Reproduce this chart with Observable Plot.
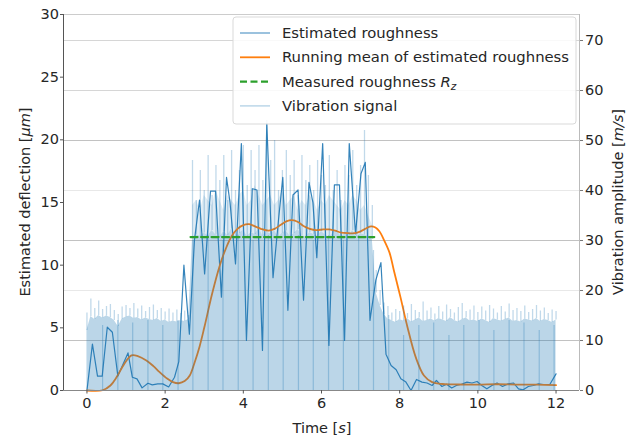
<!DOCTYPE html>
<html>
<head>
<meta charset="utf-8">
<script src="https://cdn.jsdelivr.net/npm/d3@7"></script>
<script src="https://cdn.jsdelivr.net/npm/@observablehq/plot@0.6"></script>
<style>
  html, body { margin: 0; padding: 0; background: #fff; }
  #chart { width: 638px; height: 439px; }
</style>
</head>
<body>
<div id="chart"></div>
<script>
// ---------- data ----------
const xTicks = [0, 2, 4, 6, 8, 10, 12];
const yTicksLeft = [0, 5, 10, 15, 20, 25, 30];
const yTicksRight = [0, 10, 20, 30, 40, 50, 60, 70];
const rightMax = 75.2; // right axis top (m/s) aligned with left 30 µm

// Estimated roughness (µm)
const estT = [0.00,0.14,0.27,0.39,0.52,0.65,0.79,1.05,1.16,1.28,1.41,1.56,1.67,1.81,1.94,2.09,2.24,2.35,2.48,2.62,
  2.75,2.88,3.01,3.16,3.29,3.44,3.57,3.66,3.80,3.95,4.08,4.23,4.35,4.49,4.60,4.76,4.90,5.01,5.14,5.27,5.40,
  5.54,5.68,5.78,5.88,6.03,6.19,6.33,6.46,6.59,6.71,6.87,7.01,7.12,7.24,7.39,7.52,7.65,7.78,7.91,8.03,8.16,
  8.29,8.43,8.57,8.70,8.83,8.94,9.08,9.20,9.33,9.45,9.58,9.72,9.85,9.98,10.10,10.23,10.36,10.49,10.63,10.77,
  10.91,11.04,11.16,11.29,11.42,11.55,11.67,11.84,12.00];
const estV = [0,3.7,1.15,1.15,5.05,4.65,1.15,3.0,1.06,0.93,0.21,0.58,0.45,0.53,0.53,0.28,1.06,2.3,10.0,4.5,
  12.0,15.2,9.3,15.9,15.9,7.45,17.0,15.0,10.1,19.7,4.0,16.1,16.0,3.2,21.3,9.0,13.6,17.0,6.4,15.6,16.0,
  7.2,16.6,15.0,10.6,19.7,3.6,16.4,16.4,4.0,19.7,12.5,17.3,18.2,5.6,8.8,10.2,2.9,2.0,1.65,0.93,0.67,
  0,0.88,0.67,0.6,0.4,0.8,0.32,0.5,0.2,0.4,0.5,0.67,0.6,0.72,0.4,0.13,0.4,0.6,0.32,0.53,
  0.6,0.13,0.05,0.32,0.4,0.53,0.48,0.48,1.33];

// Running mean of estimated roughness (µm)
const meanT = [0,0.4,0.6,0.76,0.95,1.14,1.3,1.52,1.7,1.86,2.05,2.2,2.35,2.5,2.63,2.75,2.88,3.0,3.2,3.4,3.55,3.7,
  3.85,4.0,4.15,4.3,4.45,4.65,4.8,4.95,5.1,5.25,5.4,5.55,5.7,5.86,6.05,6.2,6.35,6.5,6.7,6.85,7.0,7.15,7.27,
  7.38,7.48,7.6,7.74,7.85,8.02,8.2,8.41,8.62,8.83,9.1,9.5,10.0,10.5,11.0,11.5,12.0];
const meanV = [0,0.02,0.4,1.07,2.1,2.8,2.75,2.4,1.95,1.46,0.95,0.67,0.58,0.75,1.2,2.2,3.5,5.0,7.7,10.0,11.3,12.3,
  12.9,13.2,13.27,13.1,12.9,12.75,12.9,13.2,13.5,13.6,13.45,13.1,12.9,12.8,12.85,12.85,12.75,12.6,12.55,12.55,12.7,12.95,13.1,
  13.0,12.7,12.0,11.0,9.6,7.45,5.05,2.66,1.2,0.67,0.52,0.48,0.47,0.5,0.47,0.47,0.43];

// Measured roughness Rz (µm)
const measT = [2.65, 7.35];
const measV = [12.24, 12.24];

// Vibration signal (m/s), sampled every 0.1 s from 0 to 12 s
const vibStep = 0.1;
const vibBase = [
  12.0,14.8,14.2,15.0,14.5,14.9,14.6,14.0,12.8,14.3,
  14.7,14.9,14.4,14.6,14.1,14.5,14.2,14.0,14.4,13.8,
  14.1,13.6,13.9,13.7,14.0,13.8,14.2,30.5,31.2,30.8,
  31.5,30.9,32.0,31.1,30.6,31.8,31.0,32.3,30.7,31.4,
  32.1,30.8,31.6,31.2,32.4,30.9,31.7,31.3,32.0,30.6,
  31.5,31.9,30.8,31.4,32.2,31.0,30.7,31.6,31.2,30.9,
  31.8,31.1,30.6,31.5,31.9,30.8,31.3,31.0,32.0,30.7,
  31.4,31.1,30.8,30.2,19.5,17.0,15.2,14.3,14.0,13.6,
  14.2,13.9,14.4,13.7,14.1,14.5,13.8,14.0,14.3,13.9,
  14.4,14.1,13.8,14.6,14.0,13.7,14.2,14.5,13.9,14.1,
  13.8,14.3,14.0,13.6,14.4,14.1,13.9,14.2,14.5,13.8,
  14.0,13.7,14.3,14.1,13.9,14.4,13.8,14.2,14.0,13.6,
  14.1];
const vibPeak = [
  15.5,18.3,16.4,17.9,16.2,16.8,17.2,16.0,15.2,16.7,
  17.0,16.4,17.4,16.3,16.9,15.8,16.6,17.1,16.0,16.4,
  15.7,16.3,15.5,16.1,15.4,15.9,15.0,46,38,44,
  40,47,39,45,42,47,38,48,40,44,
  49,41,48,44,49,42,54,46,50,40,
  44,48,43,46,39,47,42,45,40,46,
  43,41,47,40,44,38,45,43,48,41,
  45,52,43,37,24,20,17.5,16.8,15.5,16.2,
  15.8,16.9,15.4,17.2,16.0,15.6,17.7,15.9,16.5,15.3,
  16.8,15.7,17.1,16.2,15.5,16.6,17.4,15.8,16.1,16.9,
  15.6,16.7,15.9,17.0,16.3,15.5,16.8,15.7,17.3,16.0,
  16.4,15.8,16.9,15.6,16.2,17.0,15.9,16.5,15.4,16.1,
  15.8];
// partly-dense band of the signal during machining, 2.7 s to 7.3 s
const midStart = 2.7;
const vibMid = [
  37,38,36,39,38,37,40,38,36,39,
  38,37,39,40,37,38,41,39,37,38,
  39,37,38,40,37,38,39,36,38,37,
  39,38,36,38,37,39,38,37,36,38,
  37,39,38,36,37,35,33];
// darker strokes of the vibration signal
const darkT = [0.40,0.79,1.17,1.56,1.94,2.33,2.71,3.10,3.48,3.87,4.25,4.64,5.02,5.41,5.79,6.18,6.56,6.95,7.33,
  7.72,8.10,8.49,8.87,9.26,9.64,10.03,10.41,10.80,11.18,11.57,11.95];
const darkH = [13,14,13.5,14,13,14,30,31,30,31,30,31,30,31,30,31,30,31,28,
  15,11,13,13.5,11,13,14,12,14,13.5,12,13];

// ---------- build ----------
const k = 30 / rightMax;
const est = estT.map((t, i) => ({t, v: estV[i]}));
const mean = meanT.map((t, i) => ({t, v: meanV[i]}));
const meas = measT.map((t, i) => ({t, v: measV[i]}));
const vib = vibBase.map((b, i) => ({t: +(i * vibStep).toFixed(2), base: b * k, peak: vibPeak[i] * k}));
const mid = vibMid.map((m, i) => {
  const t = +(midStart + i * vibStep).toFixed(2);
  const j = Math.round(t / vibStep);
  return {t, lo: vibBase[j] * k, hi: m * k};
});
const dark = darkT.map((t, i) => ({t, h: darkH[i] * k}));

const blue = "#1f77b4";
const textColor = "#262626";

const chart = Plot.plot({
  width: 638,
  height: 439,
  marginLeft: 63,
  marginRight: 59,
  marginTop: 14,
  marginBottom: 49,
  x: {domain: [-0.6, 12.6]},
  y: {domain: [0, 30]},
  style: {fontFamily: "DejaVu Sans", fontSize: "14.5px", color: textColor, background: "#fff"},
  marks: [
    Plot.gridY([20, 40].map(d => d * k), {stroke: "#e8e8e8", strokeOpacity: 1}),
    Plot.gridY([60, 70].map(d => d * k), {stroke: "#d6d6d6", strokeOpacity: 1}),
    Plot.gridY([10, 30, 50].map(d => d * k), {stroke: "#c2c2c2", strokeOpacity: 1}),
    Plot.line(est, {x: "t", y: "v", stroke: blue, strokeWidth: 1.2, strokeOpacity: 0.9}),
    Plot.line(mean, {x: "t", y: "v", stroke: "#ff7f0e", strokeWidth: 1.8, curve: "catmull-rom"}),
    Plot.areaY(vib, {x: "t", y1: 0, y2: "base", fill: blue, fillOpacity: 0.3}),
    Plot.areaY(mid, {x: "t", y1: "lo", y2: "hi", fill: blue, fillOpacity: 0.14}),
    Plot.ruleX(vib, {x: "t", y1: "base", y2: "peak", stroke: blue, strokeOpacity: 0.28, strokeWidth: 1.3}),
    Plot.ruleX(dark, {x: "t", y1: 0, y2: "h", stroke: blue, strokeOpacity: 0.3, strokeWidth: 1.2}),
    Plot.line(meas, {x: "t", y: "v", stroke: "#2ca02c", strokeWidth: 2.2, strokeDasharray: "7,3.5"}),
    Plot.ruleY([30], {stroke: "#cccccc"}),
    Plot.ruleX([12.6], {stroke: "#bbbbbb"}),
    Plot.ruleY([0], {stroke: "#888888"}),
    Plot.ruleX([-0.6], {stroke: "#555555"}),
    Plot.axisX(xTicks, {tickSize: 3.5, tickPadding: 4, label: null, stroke: "#555", fill: textColor}),
    Plot.axisY(yTicksLeft, {anchor: "left", tickSize: 3, tickPadding: 1.5, label: null, stroke: "#555", fill: textColor}),
    Plot.axisY(yTicksRight.map(d => d * k), {anchor: "right", tickSize: 3, tickPadding: 2.5, label: null,
      tickFormat: d => String(Math.round(d / k)), stroke: "#777", fill: textColor})
  ]
});
document.getElementById("chart").appendChild(chart);

// ---------- labels & legend ----------
const svg = d3.select(chart);
const font = "DejaVu Sans";

const xl = svg.append("text").attr("x", 322).attr("y", 433).attr("text-anchor", "middle")
  .attr("font-family", font).attr("font-size", 14.5).attr("fill", textColor);
xl.append("tspan").text("Time [");
xl.append("tspan").attr("font-style", "italic").text("s");
xl.append("tspan").text("]");

const yl = svg.append("text").attr("transform", "translate(25,202) rotate(-90)").attr("text-anchor", "middle")
  .attr("dy", "0.35em").attr("font-family", font).attr("font-size", 14.5).attr("fill", textColor);
yl.append("tspan").text("Estimated deflection [");
yl.append("tspan").attr("font-style", "italic").text("μm");
yl.append("tspan").text("]");

const yr = svg.append("text").attr("transform", "translate(618,202) rotate(-90)").attr("text-anchor", "middle")
  .attr("dy", "0.35em").attr("font-family", font).attr("font-size", 14.5).attr("fill", textColor);
yr.append("tspan").text("Vibration amplitude [");
yr.append("tspan").attr("font-style", "italic").text("m/s");
yr.append("tspan").text("]");

const lg = svg.append("g").attr("transform", "translate(233,17)");
lg.append("rect").attr("width", 343).attr("height", 107).attr("rx", 3)
  .attr("fill", "#fff").attr("fill-opacity", 0.85).attr("stroke", "#d9d9d9");
const items = [
  {label: ["Estimated roughness"], stroke: blue, op: 0.6, w: 1.5, dash: null},
  {label: ["Running mean of estimated roughness"], stroke: "#ff7f0e", op: 1, w: 1.8, dash: null},
  {label: ["Measured roughness ", "R", "z"], stroke: "#2ca02c", op: 1, w: 2.2, dash: "7,3.5"},
  {label: ["Vibration signal"], stroke: blue, op: 0.3, w: 1.5, dash: null}
];
items.forEach((it, i) => {
  const cy = 16 + i * 24.3;
  const ln = lg.append("line").attr("x1", 7).attr("x2", 37).attr("y1", cy).attr("y2", cy)
    .attr("stroke", it.stroke).attr("stroke-opacity", it.op).attr("stroke-width", it.w);
  if (it.dash) ln.attr("stroke-dasharray", it.dash);
  const t = lg.append("text").attr("x", 49).attr("y", cy).attr("dy", "0.35em").attr("text-anchor", "start")
    .attr("font-family", font).attr("font-size", 14.8).attr("fill", textColor);
  t.append("tspan").text(it.label[0]);
  if (it.label.length > 1) {
    t.append("tspan").attr("font-style", "italic").text(it.label[1]);
    t.append("tspan").attr("font-style", "italic").attr("font-size", 10.5).attr("dy", "0.3em").text(it.label[2]);
  }
});
</script>
</body>
</html>
